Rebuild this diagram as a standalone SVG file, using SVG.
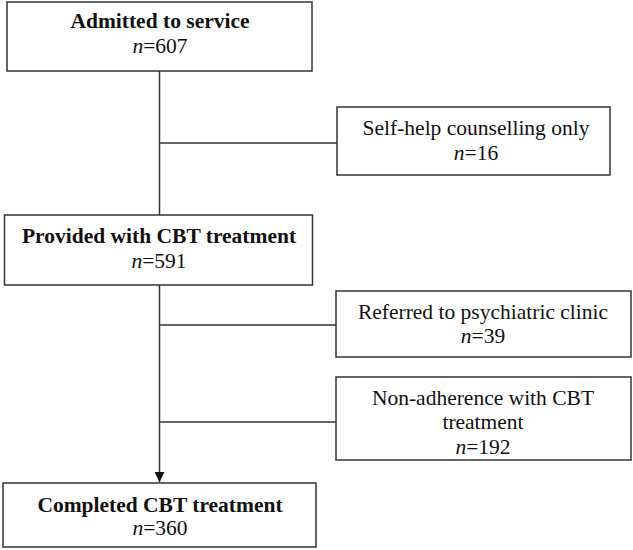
<svg xmlns="http://www.w3.org/2000/svg" width="633" height="550" viewBox="0 0 633 550">
<defs>
<style>
.box{fill:#fff;stroke:#333;stroke-width:1.5}
.t{font-family:"Liberation Serif","Times New Roman",serif;font-size:21.5px;fill:#111;text-anchor:middle}
.b{font-weight:bold}
.i{font-style:italic}
.c{stroke:#333;stroke-width:1.5;fill:none}
</style>
<marker id="ah" markerWidth="10" markerHeight="10" refX="10" refY="5" orient="auto" markerUnits="userSpaceOnUse">
<path d="M0,0 L10,5 L0,10 Z" fill="#111"/>
</marker>
</defs>
<rect width="633" height="550" fill="#fff"/>
<g id="connectors">
<line class="c" x1="159.5" y1="71" x2="159.5" y2="215"/>
<line class="c" x1="159.5" y1="143" x2="337" y2="143"/>
<line class="c" x1="159.5" y1="285" x2="159.5" y2="482" marker-end="url(#ah)"/>
<line class="c" x1="159.5" y1="325" x2="336" y2="325"/>
<line class="c" x1="159.5" y1="422" x2="336" y2="422"/>
</g>
<g id="admitted">
<rect class="box" x="7" y="2" width="305" height="69"/>
<text class="t b" x="160" y="28">Admitted to service</text>
<text class="t" x="160" y="53"><tspan class="i">n</tspan>=607</text>
</g>
<g id="selfhelp">
<rect class="box" x="337" y="107" width="273" height="68"/>
<text class="t" x="476" y="135">Self-help counselling only</text>
<text class="t" x="476" y="160"><tspan class="i">n</tspan>=16</text>
</g>
<g id="provided">
<rect class="box" x="4.5" y="215" width="308" height="70"/>
<text class="t b" x="159" y="243">Provided with CBT treatment</text>
<text class="t" x="159" y="268"><tspan class="i">n</tspan>=591</text>
</g>
<g id="referred">
<rect class="box" x="336" y="291" width="295" height="66"/>
<text class="t" x="483" y="319">Referred to psychiatric clinic</text>
<text class="t" x="483" y="343"><tspan class="i">n</tspan>=39</text>
</g>
<g id="nonadherence">
<rect class="box" x="336" y="377" width="295" height="83"/>
<text class="t" x="483" y="405">Non-adherence with CBT</text>
<text class="t" x="483" y="429">treatment</text>
<text class="t" x="483" y="454"><tspan class="i">n</tspan>=192</text>
</g>
<g id="completed">
<rect class="box" x="3" y="483" width="313" height="64"/>
<text class="t b" x="160" y="512">Completed CBT treatment</text>
<text class="t" x="160" y="535"><tspan class="i">n</tspan>=360</text>
</g>
</svg>
